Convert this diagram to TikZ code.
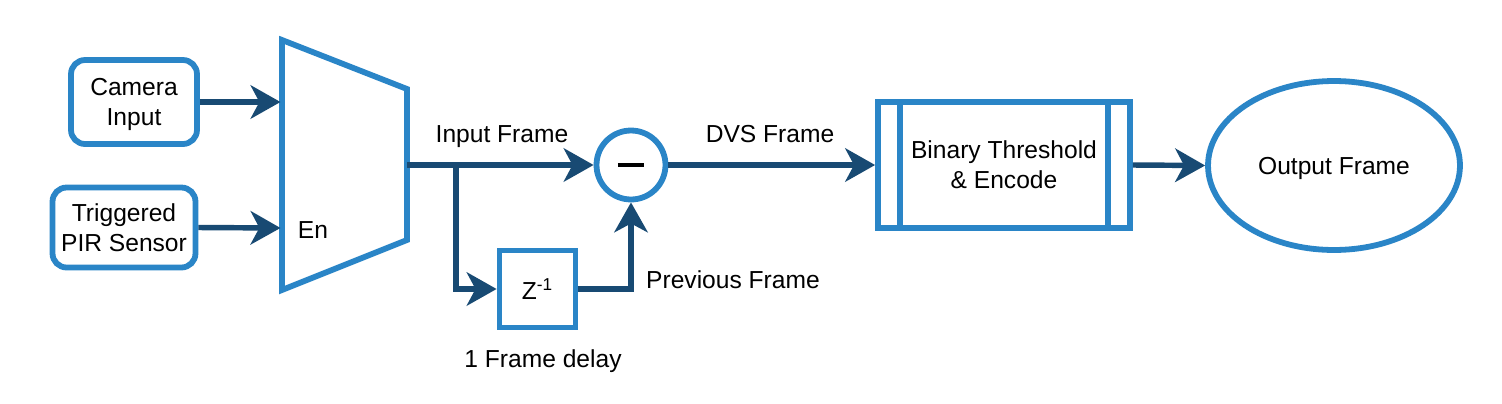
\documentclass[tikz,border=0pt]{standalone}
\usepackage{fontspec}
\setmainfont{Liberation Sans}
\usetikzlibrary{arrows.meta,positioning,shapes.geometric}
\definecolor{boxblue}{RGB}{42,133,199}
\definecolor{linkblue}{RGB}{24,74,115}

\begin{document}
\begin{tikzpicture}[x=0.02cm, y=-0.02cm,
    font=\fontsize{14}{17}\selectfont,
    block/.style={draw=boxblue, line width=3.3pt, fill=white, align=center, inner sep=0pt},
    link/.style={draw=linkblue, line width=3.1pt, -{Stealth[length=17pt, width=19pt, inset=5pt]}}]
    \useasboundingbox (0,0) rectangle (1502,403);

    % Sensor inputs
    \node[block, rounded corners=8pt, minimum width=2.52cm, minimum height=1.68cm] (cam) at (134,102) {Camera\\\smash{Input}};
    \node[block, rounded corners=8pt, minimum width=2.86cm, minimum height=1.6cm] (pir) at (124,227.5) {Triggered\\PIR Sensor};

    % Encoder trapezoid
    \draw[boxblue, line width=3.3pt, line join=miter] (282,40) -- (407,89) -- (407,240) -- (282,290) -- cycle;
    \coordinate (enc-in1) at (280.5,102);
    \coordinate (enc-in2) at (280.5,228);
    \coordinate (enc-out) at (407,165);
    \node[anchor=base] (en) at (313,238) {En};

    % Subtractor and delay
    \node[block, circle, minimum size=1.38cm] (sub) at (631,165) {\rule{15pt}{2.6pt}};
    \node[block, minimum width=1.52cm, minimum height=1.54cm] (delay) at (537.5,289) {Z\textsuperscript{-1}};
    \coordinate (split) at (456,165);

    % Threshold block and output
    \node[block, minimum width=5.04cm, minimum height=2.52cm] (thresh) at (1004,165) {Binary Threshold\\\& Encode};
    \draw[boxblue, line width=3.3pt] ([xshift=0.5cm]thresh.north west) -- ([xshift=0.5cm]thresh.south west);
    \draw[boxblue, line width=3.3pt] ([xshift=-0.5cm]thresh.north east) -- ([xshift=-0.5cm]thresh.south east);
    \node[block, ellipse, minimum width=5.04cm, minimum height=3.38cm, text depth=0pt] (out) at (1334,165.5) {Output Frame};

    % Connections
    \draw[link] (cam.east) -- (enc-in1);
    \draw[link] (pir.east) -- (enc-in2);
    \draw[link] (enc-out) -- (sub.west);
    \draw[link] (split) |- (delay.west);
    \draw[link] (delay.east) -| (sub.south);
    \draw[link] (sub.east) -- (thresh.west);
    \draw[link] (thresh.east) -- (out.west);

    % Labels
    \node[anchor=base] (lbl-input) at (502,142) {Input Frame};
    \node[anchor=base] (lbl-dvs) at (770,142) {DVS Frame};
    \node[anchor=base] (lbl-prev) at (733,288) {Previous Frame};
    \node[anchor=base] (lbl-delay) at (543,367) {1 Frame delay};
\end{tikzpicture}
\end{document}
